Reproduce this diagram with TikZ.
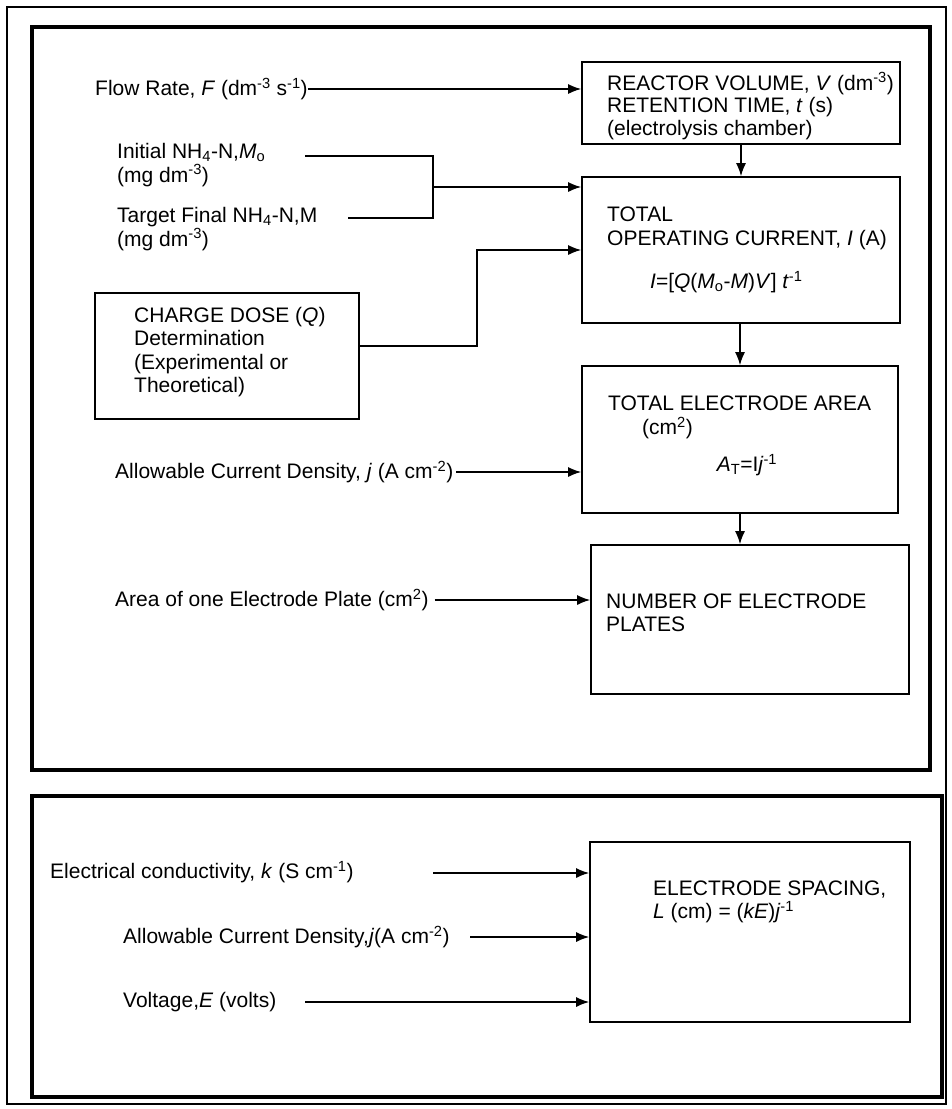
\documentclass[tikz,border=0pt]{standalone}
\usepackage{fontspec}
\setmainfont{Liberation Sans}
\usetikzlibrary{arrows.meta,calc}
\begin{document}
\begin{tikzpicture}[x=1pt,y=-1pt,
  box/.style={draw, line width=1.6pt, inner sep=0pt},
  lbl/.style={anchor=west, inner sep=0pt, align=left, font=\fontsize{21}{23.5}\selectfont},
  conn/.style={line width=1.5pt},
  arr/.style={conn, -{Latex[length=13pt,width=10pt]}},
  panel/.style={line width=4pt},
  frame/.style={line width=2pt}]
\useasboundingbox (0,0) rectangle (951,1109);
% frames
\draw[frame] (7,7) rectangle (946,1104);
\draw[panel] (32,27) rectangle (930,770);
\draw[panel] (32,796) rectangle (942,1097);

% boxes
\node[box, minimum width=318pt, minimum height=82pt] (reactor) at (741,103) {};
\node[box, minimum width=318pt, minimum height=146pt] (current) at (741,250) {};
\node[box, minimum width=316pt, minimum height=147pt] (area) at (740,439.5) {};
\node[box, minimum width=318pt, minimum height=149pt] (plates) at (750,619.5) {};
\node[box, minimum width=320pt, minimum height=180pt] (spacing) at (750,932) {};
\node[box, minimum width=264pt, minimum height=126pt] (charge) at (227,356) {};

% box texts
\node[lbl, font=\fontsize{21}{22.5}\selectfont] (reactortxt) at (607,106) {REACTOR VOLUME, \textit{V} (dm\textsuperscript{-3})\\RETENTION TIME, \textit{t} (s)\\(electrolysis chamber)};
\node[lbl] (currenttxt) at (607,228.5) {TOTAL\\OPERATING CURRENT, \textit{I} (A)};
\node[lbl] (formula) at (650,282) {\textit{I}=[\textit{Q}(\textit{M}\textsubscript{o}-\textit{M})\textit{V}] \textit{t}\textsuperscript{-1}};
\node[lbl] (areatxt) at (608,403) {TOTAL ELECTRODE AREA};
\node[lbl] (areaunit) at (642,428) {(cm\textsuperscript{2})};
\node[inner sep=0pt, font=\fontsize{21}{23.5}\selectfont] (areaform) at (747,465) {\textit{A}\textsubscript{T}=I\textit{j}\textsuperscript{-1}};
\node[lbl] (platestxt) at (606,613) {NUMBER OF ELECTRODE\\PLATES};
\node[lbl] (chargetxt) at (134,352) {CHARGE DOSE (\textit{Q})\\Determination\\(Experimental or\\Theoretical)};
\node[lbl] (spacingtxt) at (653,902) {ELECTRODE SPACING,\\\textit{L} (cm) = (\textit{kE})\textit{j}\textsuperscript{-1}};

% left inputs, top panel
\node[lbl] (flow) at (95,89) {Flow Rate, \textit{F} (dm\textsuperscript{-3} s\textsuperscript{-1})};
\node[lbl] (initial) at (117,165) {Initial NH\textsubscript{4}-N,\textit{M}\textsubscript{o}\\(mg dm\textsuperscript{-3})};
\node[lbl] (target) at (117,229) {Target Final NH\textsubscript{4}-N,M\\(mg dm\textsuperscript{-3})};
\node[lbl] (allow) at (115,472) {Allowable Current Density, \textit{j} (A cm\textsuperscript{-2})};
\node[lbl] (plate) at (115,600) {Area of one Electrode Plate (cm\textsuperscript{2})};

% left inputs, bottom panel
\node[lbl] (cond) at (50,872) {Electrical conductivity, \textit{k} (S cm\textsuperscript{-1})};
\node[lbl] (allow2) at (123,937) {Allowable Current Density,\textit{j}(A cm\textsuperscript{-2})};
\node[lbl] (volt) at (123,1002) {Voltage,\textit{E} (volts)};

% coordinates for free ends and junctions
\coordinate (i0) at (305,156);
\coordinate (t0) at (348,218);
\coordinate (j1) at (433,156);
\coordinate (j2) at (433,218);
\coordinate (j3) at (433,187);
\coordinate (c1) at (477,346);
\coordinate (c2) at (477,250);
\coordinate (k0) at (433,873);
\coordinate (a0) at (470,937);
\coordinate (v0) at (305,1002);

% connectors
\draw[arr] (flow.east) -- (flow.east -| reactor.west);
\draw[arr] (reactor.south) -- (current.north);
\draw[arr] (area.north |- current.south) -- (area.north);
\draw[arr] (area.south) -- (area.south |- plates.north);
\draw[conn] (i0) -- (j1) -- (j2) -- (t0);
\draw[arr] (j3) -- (j3 -| current.west);
\draw[arr] (charge.east |- c1) -- (c1) -- (c2) -- (c2 -| current.west);
\draw[arr] ($(allow.east)+(3,0)$) -- (allow.east -| area.west);
\draw[arr] ($(plate.east)+(6,0)$) -- (plate.east -| plates.west);
\draw[arr] (k0) -- (k0 -| spacing.west);
\draw[arr] (a0) -- (a0 -| spacing.west);
\draw[arr] (v0) -- (v0 -| spacing.west);
\end{tikzpicture}
\end{document}
